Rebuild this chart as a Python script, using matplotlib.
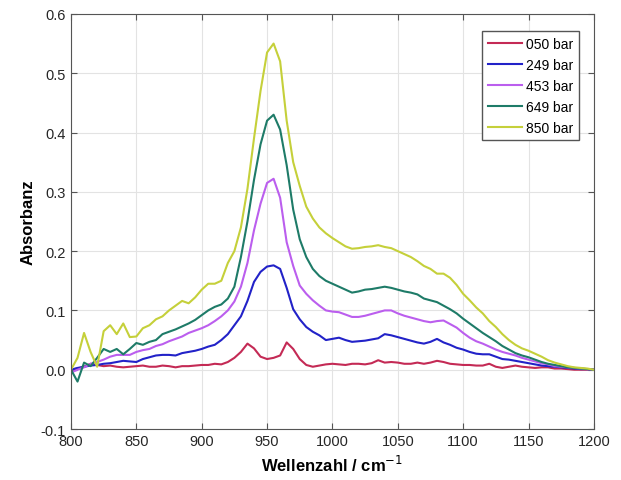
import numpy as np
import matplotlib
matplotlib.use("Agg")
import matplotlib.pyplot as plt

plt.rcParams['font.family'] = ['Liberation Sans', 'DejaVu Sans']

# wavenumber axis, 800..1200 cm^-1 in steps of 5
wn = np.arange(800, 1201, 5)

p050 = [0.0, 0.002, 0.005, 0.01, 0.008, 0.006, 0.007, 0.005, 0.004, 0.005,
        0.006, 0.007, 0.005, 0.005, 0.007, 0.006, 0.004, 0.006, 0.006, 0.007,
        0.008, 0.008, 0.01, 0.009, 0.013, 0.02, 0.03, 0.044, 0.036, 0.022,
        0.018, 0.02, 0.024, 0.046, 0.035, 0.018, 0.008, 0.005, 0.007, 0.009,
        0.01, 0.009, 0.008, 0.01, 0.01, 0.009, 0.011, 0.016, 0.012, 0.013,
        0.012, 0.01, 0.01, 0.012, 0.01, 0.012, 0.015, 0.013, 0.01, 0.009,
        0.008, 0.008, 0.007, 0.007, 0.01, 0.005, 0.003, 0.005, 0.007, 0.005,
        0.004, 0.003, 0.004, 0.004, 0.002, 0.002, 0.001, 0.0, 0.0, 0.0,
        0.0]

p249 = [0.0, 0.003, 0.005, 0.007, 0.008, 0.01, 0.011, 0.013, 0.015, 0.014,
        0.013, 0.018, 0.021, 0.024, 0.025, 0.025, 0.024, 0.028, 0.03, 0.032,
        0.035, 0.039, 0.042, 0.05, 0.06, 0.075, 0.09, 0.116, 0.148, 0.165,
        0.174, 0.176, 0.17, 0.138, 0.102, 0.085, 0.072, 0.064, 0.058, 0.05,
        0.052, 0.054, 0.05, 0.047, 0.048, 0.049, 0.051, 0.053, 0.06, 0.058,
        0.055, 0.052, 0.049, 0.046, 0.044, 0.047, 0.052, 0.046, 0.042, 0.037,
        0.034, 0.03, 0.027, 0.026, 0.026, 0.022, 0.018, 0.017, 0.015, 0.013,
        0.011, 0.009, 0.007, 0.006, 0.005, 0.004, 0.003, 0.002, 0.001, 0.001,
        0.0]

p453 = [-0.005, 0.0, 0.004, 0.01, 0.013, 0.017, 0.022, 0.025, 0.025, 0.025,
        0.03, 0.033, 0.035, 0.04, 0.043, 0.048, 0.052, 0.056, 0.062, 0.066,
        0.07, 0.075, 0.082, 0.09, 0.1, 0.115, 0.14, 0.18, 0.235, 0.28,
        0.315, 0.322, 0.29, 0.215, 0.175, 0.142, 0.128, 0.117, 0.108, 0.1,
        0.098, 0.097, 0.093, 0.089, 0.089, 0.091, 0.094, 0.097, 0.1, 0.1,
        0.095, 0.091, 0.088, 0.085, 0.082, 0.08, 0.082, 0.083, 0.077, 0.071,
        0.062, 0.054, 0.048, 0.044, 0.039, 0.034, 0.03, 0.027, 0.024, 0.02,
        0.017, 0.014, 0.011, 0.009, 0.006, 0.005, 0.004, 0.003, 0.002, 0.001,
        0.0]

p649 = [0.0, -0.02, 0.012, 0.006, 0.02, 0.035, 0.03, 0.035, 0.026, 0.035,
        0.045, 0.042, 0.047, 0.05, 0.06, 0.064, 0.068, 0.073, 0.078, 0.084,
        0.092, 0.1, 0.106, 0.11, 0.12, 0.14, 0.19, 0.25, 0.32, 0.38,
        0.42, 0.43, 0.405, 0.345, 0.27, 0.22, 0.19, 0.17, 0.158, 0.15,
        0.145, 0.14, 0.135, 0.13, 0.132, 0.135, 0.136, 0.138, 0.14, 0.138,
        0.135, 0.132, 0.13, 0.127, 0.12, 0.117, 0.114, 0.108, 0.102, 0.095,
        0.086, 0.078, 0.07, 0.062, 0.055, 0.048, 0.04, 0.034, 0.028, 0.024,
        0.021, 0.017, 0.013, 0.01, 0.008, 0.006, 0.004, 0.003, 0.002, 0.001,
        0.0]

p850 = [0.0, 0.02, 0.062, 0.03, 0.005, 0.065, 0.075, 0.06, 0.078, 0.055,
        0.056, 0.07, 0.075, 0.085, 0.09, 0.1, 0.108, 0.116, 0.112, 0.122,
        0.135, 0.145, 0.145, 0.15, 0.18, 0.2, 0.24, 0.305, 0.39, 0.47,
        0.535, 0.55, 0.52, 0.42, 0.35, 0.31, 0.275, 0.255, 0.24, 0.23,
        0.222, 0.215, 0.208, 0.204, 0.205, 0.207, 0.208, 0.21, 0.207, 0.205,
        0.2, 0.195, 0.19, 0.183, 0.175, 0.17, 0.162, 0.162, 0.155, 0.143,
        0.128, 0.117, 0.105, 0.095, 0.082, 0.072, 0.06, 0.05, 0.042, 0.036,
        0.032, 0.027, 0.022, 0.016, 0.012, 0.009, 0.006, 0.004, 0.003, 0.002,
        0.0]

labels = ['050 bar', '249 bar', '453 bar', '649 bar', '850 bar']
colors = ['#C42A55', '#2222C8', '#BB5EEE', '#1E7B68', '#C5D03A']

fig = plt.figure(figsize=(6.21, 4.81), dpi=100)
ax = fig.add_axes([0.1143, 0.106, 0.842, 0.863])

for y, lab, c in zip([p050, p249, p453, p649, p850], labels, colors):
    ax.plot(wn, y, color=c, lw=1.5, label=lab)

ax.set_xlim(800, 1200)
ax.set_ylim(-0.1, 0.6)
ax.set_xticks(range(800, 1201, 50))
ax.set_yticks(np.arange(-0.1, 0.61, 0.1))
ax.set_yticklabels(['-0.1', '0.0', '0.1', '0.2', '0.3', '0.4', '0.5', '0.6'])
ax.grid(True, color='#e3e3e3', lw=0.8)
ax.tick_params(direction='in', top=True, right=True, labelsize=10.5,
               color='#555555', labelcolor='#262626', length=4)
for s in ax.spines.values():
    s.set_color('#555555')

ax.set_xlabel('Wellenzahl / cm$^{-1}$', fontsize=12, fontweight='bold')
ax.set_ylabel('Absorbanz', fontsize=12, fontweight='bold')

leg = ax.legend(loc='upper right', bbox_to_anchor=(0.972, 0.958), fontsize=10,
                handlelength=2.5, handletextpad=0.3, fancybox=False, framealpha=1,
                borderpad=0.4, labelspacing=0.5, borderaxespad=0)
leg.get_frame().set_edgecolor('#555555')

fig.savefig('out.png', dpi=100)
